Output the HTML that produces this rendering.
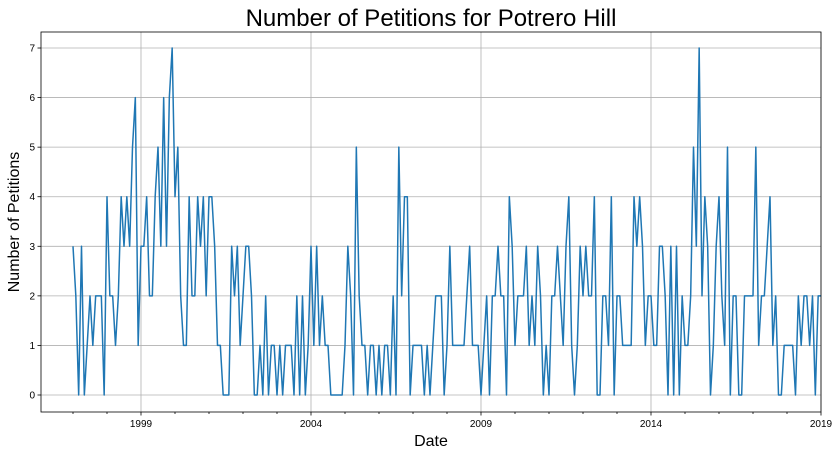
<!DOCTYPE html>
<html><head><meta charset="utf-8">
<style>
html,body{margin:0;padding:0;background:#fff;}
svg{display:block;font-family:"Liberation Sans","DejaVu Sans",sans-serif;}
</style></head>
<body>
<svg id="chart" width="840" height="455" viewBox="0 0 840 455" xmlns="http://www.w3.org/2000/svg">
<text x="431" y="26" font-size="24" text-anchor="middle" fill="#000">Number of Petitions for Potrero Hill</text>
<g id="grid"></g>
<g id="axes"></g>
<path id="series" fill="none" stroke="#1f77b4" stroke-width="1.5" stroke-linejoin="round"/>
<rect x="41" y="32" width="780" height="380" fill="none" stroke="#000" stroke-width="0.8"/>
<text x="431" y="446" font-size="16" text-anchor="middle">Date</text>
<text transform="translate(19,222) rotate(-90)" font-size="16" text-anchor="middle">Number of Petitions</text>
</svg>
<script>
const startYear = 1997;
const majorYears = [1999, 2004, 2009, 2014, 2019];
const yTicks = [0, 1, 2, 3, 4, 5, 6, 7];
const petitions = [
3,2,0,3,0,1,2,1,2,2,2,0,4,2,2,1,2,4,3,4,3,5,6,1,3,3,4,2,2,4,5,3,6,3,
6,7,4,5,2,1,1,4,2,2,4,3,4,2,4,4,3,1,1,0,0,0,3,2,3,1,2,3,3,2,0,0,1,
0,2,0,1,1,0,1,0,1,1,1,0,2,0,2,0,1,3,1,3,1,2,1,1,0,0,0,0,0,1,3,2,0,
5,2,1,1,0,1,1,0,1,0,1,1,0,2,0,5,2,4,4,0,1,1,1,1,0,1,0,1,2,2,2,0,1,3,
1,1,1,1,1,2,3,1,1,1,0,1,2,0,2,2,3,2,2,0,4,3,1,2,2,2,3,1,2,1,3,2,0,
1,0,2,2,3,2,1,3,4,1,0,1,3,2,3,2,2,4,0,0,2,2,1,4,0,2,2,1,1,1,1,4,
3,4,3,1,2,2,1,1,3,3,2,0,3,0,3,0,2,1,1,2,5,3,7,2,4,3,0,1,3,4,2,1,5,0,2,
2,0,0,2,2,2,2,5,1,2,2,3,4,1,2,0,0,1,1,1,1,0,2,1,2,2,1,2,0,2,2
];
const NS = "http://www.w3.org/2000/svg";
const X0 = 41, X1 = 821, Y0 = 412;
function xScale(yearFrac){ return 141 + (yearFrac - 1999) * 34; }
function yScale(v){ return 395 - v * 49.57; }
const grid = document.getElementById('grid');
const axes = document.getElementById('axes');
function mk(tag, attrs, parent){ const e = document.createElementNS(NS, tag); for (const k in attrs) e.setAttribute(k, attrs[k]); parent.appendChild(e); return e; }
yTicks.forEach(t => {
  const y = yScale(t);
  const g = mk('line', {x1:X0, x2:X1, y1:y, y2:y, stroke:'#b0b0b0', 'stroke-width':0.8}, grid);
  
  
  mk('line', {x1:X0-3.5, x2:X0, y1:y, y2:y, stroke:'#000', 'stroke-width':0.8}, axes);
  const tx = mk('text', {x:X0-6, y:y+3.5, 'font-size':10, 'text-anchor':'end'}, axes);
  tx.textContent = t;
  
  
});
for (let yr = 1996; yr <= 2019; yr++) {
  const x = xScale(yr);
  if (x < X0 - 1 || x > X1 + 1) continue;
  const major = majorYears.includes(yr);
  mk('line', {x1:x, x2:x, y1:Y0, y2:Y0 + (major ? 3.5 : 2), stroke:'#000', 'stroke-width':0.8}, axes);
  if (major) {
    const g = mk('line', {x1:x, x2:x, y1:32, y2:Y0, stroke:'#b0b0b0', 'stroke-width':0.8}, grid);
    
    
    const tx = mk('text', {x:x, y:Y0+15, 'font-size':10, 'text-anchor':'middle'}, axes);
    tx.textContent = yr;
    
    
  }
}
let d = '';
petitions.forEach((v, i) => {
  const x = xScale(startYear + i / 12);
  d += (i ? 'L' : 'M') + x.toFixed(2) + ',' + yScale(v).toFixed(2);
});
document.getElementById('series').setAttribute('d', d);
</script>
</body></html>
